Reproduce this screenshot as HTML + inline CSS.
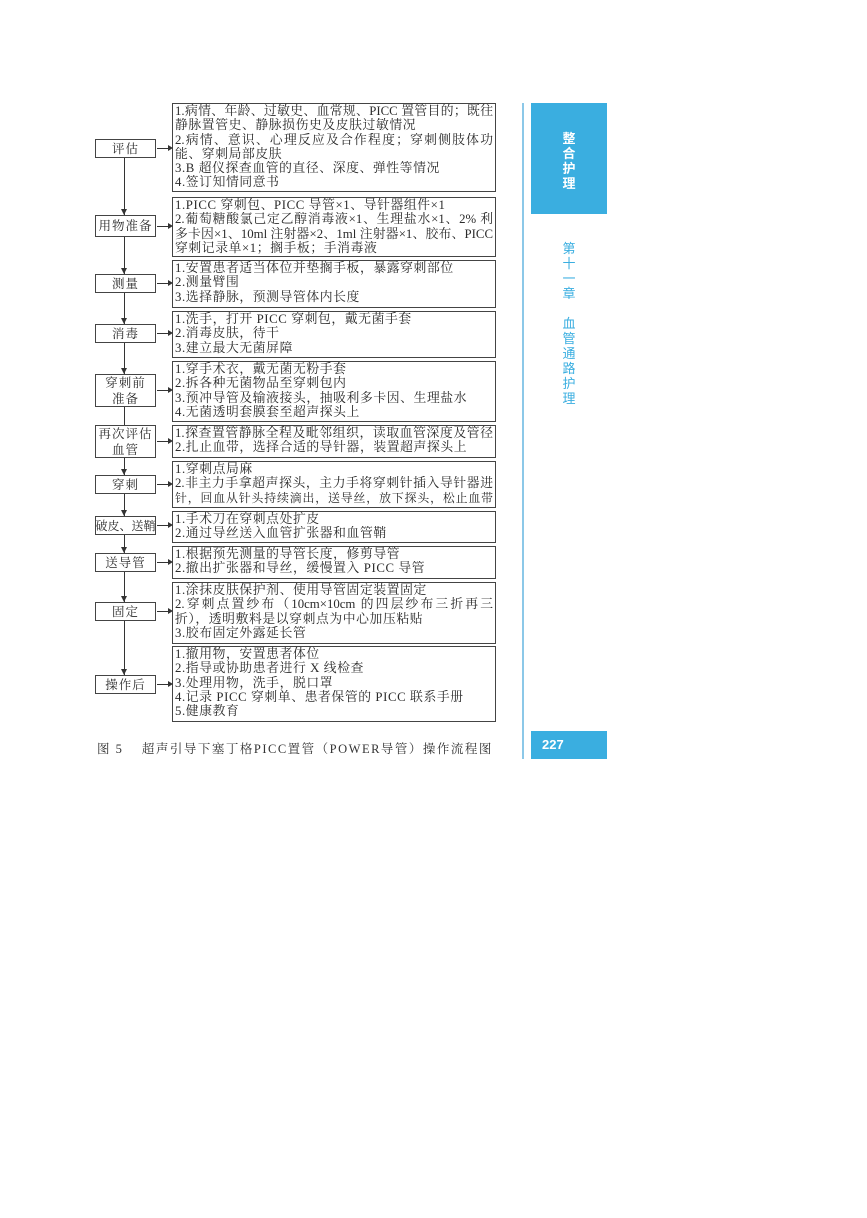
<!DOCTYPE html>
<html><head><meta charset="utf-8"><style>
body{margin:0;width:867px;height:1218px;background:#fff;position:relative;overflow:hidden;font-family:"Liberation Serif","Noto Serif CJK SC","Noto Sans CJK SC",serif;color:#2a2a2a}
.l{position:absolute;left:95px;width:61px;border:1px solid #444;font-size:12.5px;text-align:center;line-height:16px;letter-spacing:1px;box-sizing:border-box;display:flex;align-items:center;justify-content:center;background:#fff;white-space:nowrap}
.r{position:absolute;left:172px;width:324px;border:1px solid #444;box-sizing:border-box;font-size:12.8px;line-height:14.3px;padding:0 2px;white-space:nowrap;background:#fff;letter-spacing:0.6px}
.r div{height:14.3px;overflow:hidden}
.r .j{text-align:justify;text-align-last:justify;white-space:normal;letter-spacing:0}
.h{position:absolute;left:157px;width:13px;height:1px;background:#333}
.h:after{content:"";position:absolute;right:-3px;top:-3px;border-left:5px solid #333;border-top:3.5px solid transparent;border-bottom:3.5px solid transparent}
.a{position:absolute;left:121px;border-top:6px solid #333;border-left:3.5px solid transparent;border-right:3.5px solid transparent}
</style></head><body>
<div style="position:absolute;left:124px;top:157px;width:1px;height:518px;background:#333"></div>

<div class="r" style="top:103px;height:89px"><div class="j">1.病情、年龄、过敏史、血常规、PICC 置管目的；既往</div><div>静脉置管史、静脉损伤史及皮肤过敏情况</div><div class="j">2.病情、意识、心理反应及合作程度；穿刺侧肢体功</div><div>能、穿刺局部皮肤</div><div>3.B 超仪探查血管的直径、深度、弹性等情况</div><div>4.签订知情同意书</div></div>
<div class="l" style="top:139px;height:19px">评估</div><div class="h" style="top:148px"></div>

<div class="r" style="top:197px;height:60px"><div>1.PICC 穿刺包、PICC 导管×1、导针器组件×1</div><div class="j">2.葡萄糖酸氯己定乙醇消毒液×1、生理盐水×1、2% 利</div><div class="j">多卡因×1、10ml 注射器×2、1ml 注射器×1、胶布、PICC</div><div>穿刺记录单×1；搁手板；手消毒液</div></div>
<div class="a" style="top:209px"></div>
<div class="l" style="top:215px;height:22px">用物准备</div><div class="h" style="top:226px"></div>

<div class="r" style="top:260px;height:48px"><div>1.安置患者适当体位并垫搁手板，暴露穿刺部位</div><div>2.测量臂围</div><div>3.选择静脉，预测导管体内长度</div></div>
<div class="a" style="top:268px"></div>
<div class="l" style="top:274px;height:19px">测量</div><div class="h" style="top:283px"></div>

<div class="r" style="top:311px;height:47px"><div>1.洗手，打开 PICC 穿刺包，戴无菌手套</div><div>2.消毒皮肤，待干</div><div>3.建立最大无菌屏障</div></div>
<div class="a" style="top:318px"></div>
<div class="l" style="top:324px;height:19px">消毒</div><div class="h" style="top:333px"></div>

<div class="r" style="top:361px;height:61px"><div>1.穿手术衣，戴无菌无粉手套</div><div>2.拆各种无菌物品至穿刺包内</div><div>3.预冲导管及输液接头，抽吸利多卡因、生理盐水</div><div>4.无菌透明套膜套至超声探头上</div></div>
<div class="a" style="top:368px"></div>
<div class="l" style="top:374px;height:33px">穿刺前<br>准备</div><div class="h" style="top:390px"></div>

<div class="r" style="top:425px;height:33px"><div class="j">1.探查置管静脉全程及毗邻组织，读取血管深度及管径</div><div>2.扎止血带，选择合适的导针器，装置超声探头上</div></div>
<div class="l" style="top:425px;height:33px">再次评估<br>血管</div><div class="h" style="top:441px"></div>

<div class="r" style="top:461px;height:47px"><div>1.穿刺点局麻</div><div class="j">2.非主力手拿超声探头，主力手将穿刺针插入导针器进</div><div class="j" style="font-size:11.9px">针，回血从针头持续滴出，送导丝，放下探头，松止血带</div></div>
<div class="a" style="top:469px"></div>
<div class="l" style="top:475px;height:19px">穿刺</div><div class="h" style="top:484px"></div>

<div class="r" style="top:511px;height:32px"><div>1.手术刀在穿刺点处扩皮</div><div>2.通过导丝送入血管扩张器和血管鞘</div></div>
<div class="a" style="top:510px"></div>
<div class="l" style="top:516px;height:19px;letter-spacing:0;font-size:12px">破皮、送鞘</div><div class="h" style="top:525px"></div>

<div class="r" style="top:546px;height:33px"><div>1.根据预先测量的导管长度，修剪导管</div><div>2.撤出扩张器和导丝，缓慢置入 PICC 导管</div></div>
<div class="a" style="top:547px"></div>
<div class="l" style="top:553px;height:19px">送导管</div><div class="h" style="top:562px"></div>

<div class="r" style="top:582px;height:62px"><div>1.涂抹皮肤保护剂、使用导管固定装置固定</div><div class="j">2.穿刺点置纱布（10cm×10cm 的四层纱布三折再三</div><div>折），透明敷料是以穿刺点为中心加压粘贴</div><div>3.胶布固定外露延长管</div></div>
<div class="a" style="top:596px"></div>
<div class="l" style="top:602px;height:19px">固定</div><div class="h" style="top:611px"></div>

<div class="r" style="top:646px;height:76px"><div>1.撤用物，安置患者体位</div><div>2.指导或协助患者进行 X 线检查</div><div>3.处理用物，洗手，脱口罩</div><div>4.记录 PICC 穿刺单、患者保管的 PICC 联系手册</div><div>5.健康教育</div></div>
<div class="a" style="top:669px"></div>
<div class="l" style="top:675px;height:19px">操作后</div><div class="h" style="top:684px"></div>

<div style="position:absolute;left:97px;top:739px;font-size:12.5px;letter-spacing:1.5px;white-space:nowrap;color:#333">图 5&nbsp;&nbsp;&nbsp;&nbsp;超声引导下塞丁格PICC置管（POWER导管）操作流程图</div>

<div style="position:absolute;left:522px;top:103px;width:2px;height:656px;background:#8cc8e8"></div>
<div style="position:absolute;left:531px;top:103px;width:76px;height:111px;background:#3aaee0;color:#fff;font-family:'Noto Sans CJK SC',sans-serif;font-weight:bold;font-size:13px;line-height:15px;text-align:center;box-sizing:border-box;padding-top:27px">整<br>合<br>护<br>理</div>
<div style="position:absolute;left:531px;top:240px;width:76px;color:#3aaee0;font-family:'Noto Sans CJK SC',sans-serif;font-size:13px;line-height:15px;text-align:center">第<br>十<br>一<br>章<br><br>血<br>管<br>通<br>路<br>护<br>理</div>
<div style="position:absolute;left:531px;top:731px;width:76px;height:28px;background:#3aaee0;color:#fff;font-family:'Liberation Sans',sans-serif;font-size:13px;font-weight:bold;line-height:28px;padding-left:11px;box-sizing:border-box">227</div>
</body></html>
